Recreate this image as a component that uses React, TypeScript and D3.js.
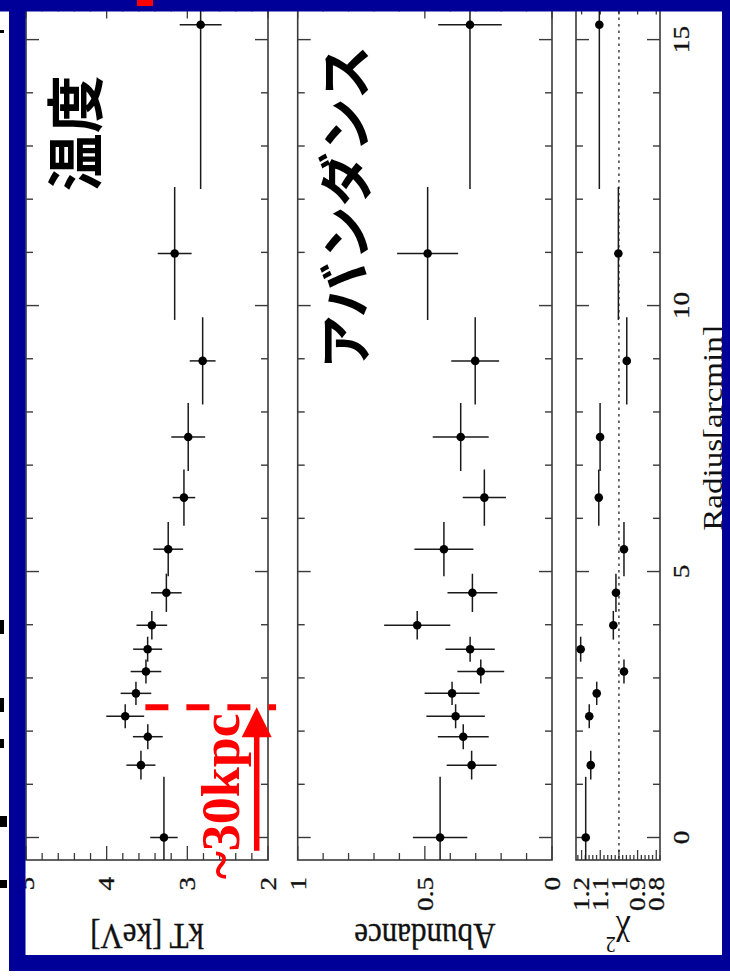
import React from 'react';
import * as d3 from 'd3';

// ---- data ----
const radius = [0, 1.36, 1.895, 2.28, 2.71, 3.12, 3.54, 3.99, 4.6, 5.42, 6.39, 7.53, 8.96, 10.98, 15.28];
const radiusHalfWidth = [1.14, 0.27, 0.235, 0.225, 0.22, 0.225, 0.235, 0.27, 0.36, 0.51, 0.53, 0.64, 0.82, 1.25, 3.09];
const kT = [3.29, 3.575, 3.49, 3.77, 3.637, 3.513, 3.492, 3.44, 3.26, 3.237, 3.042, 2.989, 2.81, 3.157, 2.835];
const kTErr = [0.17, 0.18, 0.185, 0.235, 0.19, 0.19, 0.18, 0.19, 0.19, 0.185, 0.14, 0.21, 0.16, 0.21, 0.26];
const abundance = [0.44, 0.316, 0.349, 0.379, 0.393, 0.28, 0.322, 0.53, 0.313, 0.425, 0.266, 0.359, 0.302, 0.489, 0.3225];
const abundanceErr = [0.107, 0.098, 0.1, 0.115, 0.108, 0.092, 0.097, 0.13, 0.098, 0.116, 0.085, 0.11, 0.094, 0.12, 0.125];
const chi2: (number | null)[] = [1.178, 1.151, null, 1.159, 1.119, 0.973, 1.205, 1.03, 1.016, 0.973, 1.108, 1.101, 0.958, 1.003, 1.105];

const radiusTickValues = [0, 5, 10, 15];
const radiusTickLabels = ['0', '5', '10', '15'];
const kTTickValues = [5, 4, 3, 2];
const kTTickLabels = ['5', '4', '3', '2'];
const abundanceTickValues = [1, 0.5, 0];
const abundanceTickLabels = ['1', '0.5', '0'];
const chiTickValues = [1.2, 1.1, 1, 0.9, 0.8];
const chiTickLabels = ['1.2', '1.1', '1', '0.9', '0.8'];

// annotation (data units)
const scaleRadius = 2.45; // ~30kpc in arcmin
const arrowKT = 2.14;
const dashKTRange = [3.52, 1.9];

const FRAME = '#000099';
const AX = '#3a3a3a';
const SERIF = "'Liberation Serif', 'DejaVu Serif', serif";
const SY = 1.18;

function ticksBetween(lo: number, hi: number, step: number) {
  const n = Math.round((hi - lo) / step);
  const out: number[] = [];
  for (let i = 0; i <= n; i++) out.push(+(lo + i * step).toFixed(6));
  return out;
}
function isMult(v: number, m: number) {
  return Math.abs(v / m - Math.round(v / m)) < 1e-6;
}

export default function App() {
  const yR = d3.scaleLinear().domain([-0.423, 15.66]).range([860, 4.5]);
  const top = 4.5;
  const bottom = 860;
  const xKT = d3.scaleLinear().domain([5, 2]).range([26, 268]);
  const xAb = d3.scaleLinear().domain([1, 0]).range([297.7, 552]);
  const xChi = d3.scaleLinear().domain([1.23, 0.78]).range([576, 660]);

  const panels = [
    { id: 'kt', x: xKT, vals: kT, errs: kTErr as (number | null)[] | null, minor: ticksBetween(2, 5, 0.2), major: 1,
      tv: kTTickValues, tl: kTTickLabels, minorLen: 7, majorLen: 14 },
    { id: 'ab', x: xAb, vals: abundance, errs: abundanceErr as (number | null)[] | null, minor: ticksBetween(0, 1, 0.1), major: 0.5,
      tv: abundanceTickValues, tl: abundanceTickLabels, minorLen: 7, majorLen: 14 },
    { id: 'chi', x: xChi, vals: chi2, errs: null, minor: ticksBetween(0.78, 1.22, 0.02), major: 0.1,
      tv: chiTickValues, tl: chiTickLabels, minorLen: 5, majorLen: 10 },
  ];

  const rTicks = ticksBetween(0, 15, 1);

  return (
    <svg width={730} height={977} style={{ position: 'absolute', left: 0, top: 0, display: 'block', background: '#fff' }}>
      <defs>
        {panels.map((p) => (
          <clipPath id={`clip-${p.id}`} key={p.id}>
            <rect x={p.x.range()[0]} y={top} width={p.x.range()[1] - p.x.range()[0]} height={bottom - top} />
          </clipPath>
        ))}
      </defs>
      <rect x={0} y={0} width={730} height={977} fill="#fff" />

      {panels.map((p) => {
        const [x0, x1] = p.x.range();
        return (
          <g key={p.id}>
            {rTicks.map((r) => {
              const len = isMult(r, 5) ? 13 : 7;
              const y = yR(r);
              return (
                <g key={`r${r}`} stroke={AX} strokeWidth={1.4}>
                  <line x1={x0} x2={x0 + len} y1={y} y2={y} />
                  <line x1={x1} x2={x1 - len} y1={y} y2={y} />
                </g>
              );
            })}
            {p.minor.map((v) => {
              const len = isMult(v, p.major) ? p.majorLen : p.minorLen;
              const x = p.x(v);
              return (
                <g key={`v${v}`} stroke={AX} strokeWidth={1.3}>
                  <line x1={x} x2={x} y1={bottom} y2={bottom - len} />
                  <line x1={x} x2={x} y1={top} y2={top + len} />
                </g>
              );
            })}
            <rect x={x0} y={top} width={x1 - x0} height={bottom - top} fill="none" stroke={AX} strokeWidth={1.6} />
            {p.tv.map((v, i) => (
              <text key={`tl${i}`} transform={`translate(${p.x(v) + 7.8},877) scale(1,${SY}) rotate(-90)`}
                textAnchor="end" fontFamily={SERIF} fontSize={23} fill="#111" stroke="#111" strokeWidth={0.3}>{p.tl[i]}</text>
            ))}
            {p.id === 'chi' && (
              <line x1={xChi(1)} x2={xChi(1)} y1={top} y2={bottom} stroke="#222" strokeWidth={1.3} strokeDasharray="2.5 4" />
            )}
            <g clipPath={`url(#clip-${p.id})`}>
              {radius.map((r, i) => {
                const v = p.vals[i];
                if (v == null) return null;
                const cx = p.x(v);
                const cy = yR(r);
                const e = p.errs ? p.errs[i] : null;
                return (
                  <g key={i} stroke="#1a1a1a" strokeWidth={1.5}>
                    <line x1={cx} x2={cx} y1={yR(r - radiusHalfWidth[i])} y2={yR(r + radiusHalfWidth[i])} />
                    {e != null && <line x1={p.x(v - e)} x2={p.x(v + e)} y1={cy} y2={cy} />}
                    <circle cx={cx} cy={cy} r={4.3} fill="#000" stroke="none" />
                  </g>
                );
              })}
            </g>
          </g>
        );
      })}

      {radiusTickValues.map((r, i) => (
        <text key={`rl${i}`} transform={`translate(689,${yR(r)}) scale(1,${SY}) rotate(-90)`}
          textAnchor="middle" fontFamily={SERIF} fontSize={23} fill="#111" stroke="#111" strokeWidth={0.3}>{radiusTickLabels[i]}</text>
      ))}

      <text transform={`translate(${(xKT.range()[0] + xKT.range()[1]) / 2},924) scale(1,${SY}) rotate(180)`}
        textAnchor="middle" fontFamily={SERIF} fontSize={31} fill="#111" stroke="#111" strokeWidth={0.3}>kT [keV]</text>
      <text transform={`translate(${(xAb.range()[0] + xAb.range()[1]) / 2},924) scale(1,${SY}) rotate(180)`}
        textAnchor="middle" fontFamily={SERIF} fontSize={31} fill="#111" stroke="#111" strokeWidth={0.3}>Abundance</text>
      <text transform={`translate(${(xChi.range()[0] + xChi.range()[1]) / 2},924) scale(1,${SY}) rotate(180)`}
        textAnchor="middle" fontFamily={SERIF} fontSize={33} fill="#111">χ<tspan dy={-11} fontSize={20}>2</tspan></text>
      <text transform={`translate(722,428) scale(1,${SY}) rotate(-90)`}
        textAnchor="middle" fontFamily={SERIF} fontSize={28} fill="#111">Radius[arcmin]</text>

      <text transform={`translate(${xKT(4.43)},${yR(13.24)}) rotate(-90)`} textAnchor="middle" dominantBaseline="central"
        fontFamily="'Noto Sans CJK JP', sans-serif" fontWeight={700} fontSize={58} fill="#000">温度</text>
      <text transform={`translate(${xAb(0.825)},${yR(11.85)}) rotate(-90)`} textAnchor="middle" dominantBaseline="central"
        fontFamily="'Noto Sans CJK JP', sans-serif" fontWeight={700} fontSize={54} fill="#000">アバンダンス</text>

      <line x1={xKT(dashKTRange[0])} x2={xKT(dashKTRange[1])} y1={yR(scaleRadius)} y2={yR(scaleRadius)}
        stroke="#ff0000" strokeWidth={6} strokeDasharray="23 18" />
      <line x1={xKT(arrowKT)} x2={xKT(arrowKT)} y1={yR(-0.25)} y2={yR(scaleRadius) + 25} stroke="#ff0000" strokeWidth={5.5} />
      <path d={`M${xKT(arrowKT)},${yR(scaleRadius)} L${xKT(arrowKT) - 15},${yR(scaleRadius) + 30} L${xKT(arrowKT) + 15},${yR(scaleRadius) + 30} Z`} fill="#ff0000" />
      <text transform={`translate(239,${yR(scaleRadius) + 6}) rotate(-90)`} textAnchor="end"
        fontFamily={SERIF} fontWeight={700} fontSize={54} fill="#ff0000">~30kpc</text>

      <rect x={0} y={0} width={730} height={11.5} fill={FRAME} />
      <rect x={9} y={0} width={16.5} height={971} fill={FRAME} />
      <rect x={722} y={0} width={8} height={971} fill={FRAME} />
      <rect x={9} y={955} width={721} height={16} fill={FRAME} />
      <rect x={137} y={0} width={16} height={6} fill="#ff0000" />

      <g fill="#000">
        <rect x={0} y={30} width={4} height={3} />
        <rect x={0} y={620} width={4} height={14} />
        <rect x={0} y={698} width={4} height={14} />
        <rect x={0} y={739} width={4} height={9} />
        <rect x={0} y={816} width={7} height={11} />
        <rect x={0} y={880} width={7} height={8} />
      </g>
    </svg>
  );
}
